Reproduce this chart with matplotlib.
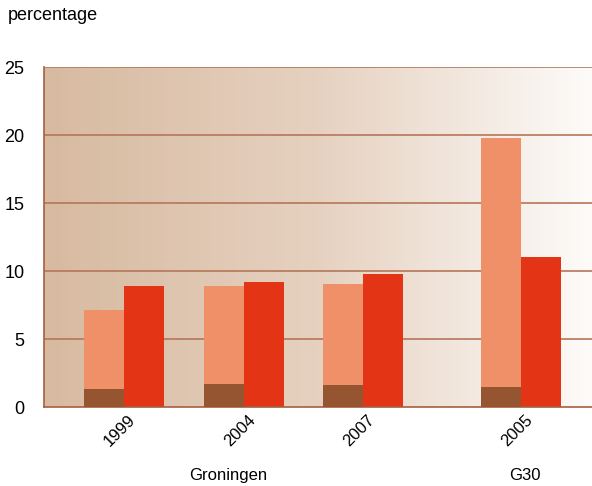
import numpy as np
import matplotlib.pyplot as plt
from matplotlib.colors import LinearSegmentedColormap

plt.rcParams['font.family'] = ['Liberation Sans', 'DejaVu Sans']

# data
years = ['1999', '2004', '2007', '2005']
groups = ['Groningen', 'G30']
total_light = [7.15, 8.9, 9.05, 19.8]   # salmon bars (incl. dark part)
dark_part = [1.35, 1.7, 1.65, 1.5]      # dark brown bottom
red_vals = [8.9, 9.2, 9.75, 11.0]

pos = np.array([2.0, 5.0, 7.98, 11.93])

fig = plt.figure(figsize=(5.92, 4.86), dpi=100)
ax = fig.add_axes([44 / 592, 1 - 407 / 486, 548 / 592, 340 / 486])

# gradient background
grad = LinearSegmentedColormap.from_list('bg', ['#D7BAA0', '#E6D1C0', '#FDFBF9'])
ax.imshow(np.linspace(0, 1, 256).reshape(1, -1), cmap=grad, aspect='auto',
          extent=[0, 13.7, 0, 25], zorder=0)

for y in [5, 10, 15, 20, 25]:
    ax.axhline(y, color='#B57659', lw=1.2, zorder=1)

ax.bar(pos - 0.5, total_light, width=1.0, color='#F09068', zorder=2)
ax.bar(pos - 0.5, dark_part, width=1.0, color='#965531', zorder=3)
ax.bar(pos + 0.5, red_vals, width=1.0, color='#E33516', zorder=2)

ax.set_xlim(0, 13.7)
ax.set_ylim(0, 25)
ax.set_yticks([0, 5, 10, 15, 20, 25])
ax.tick_params(axis='y', length=0, labelsize=13, pad=14)
ax.set_xticks(pos - 0.1)
ax.set_xticklabels(years, rotation=45, fontsize=12)
ax.tick_params(axis='x', length=0, pad=4)

for s in ['top', 'right']:
    ax.spines[s].set_visible(False)
for s in ['left', 'bottom']:
    ax.spines[s].set_color('#A4603F')
    ax.spines[s].set_linewidth(1.2)

fig.text(228 / 592, 1 - 475 / 486, groups[0], ha='center', va='center', fontsize=12)
fig.text(525 / 592, 1 - 475 / 486, groups[1], ha='center', va='center', fontsize=12)
fig.text(8 / 592, 1 - 15 / 486, 'percentage', ha='left', va='center', fontsize=13)

fig.savefig('out.png', dpi=100)
